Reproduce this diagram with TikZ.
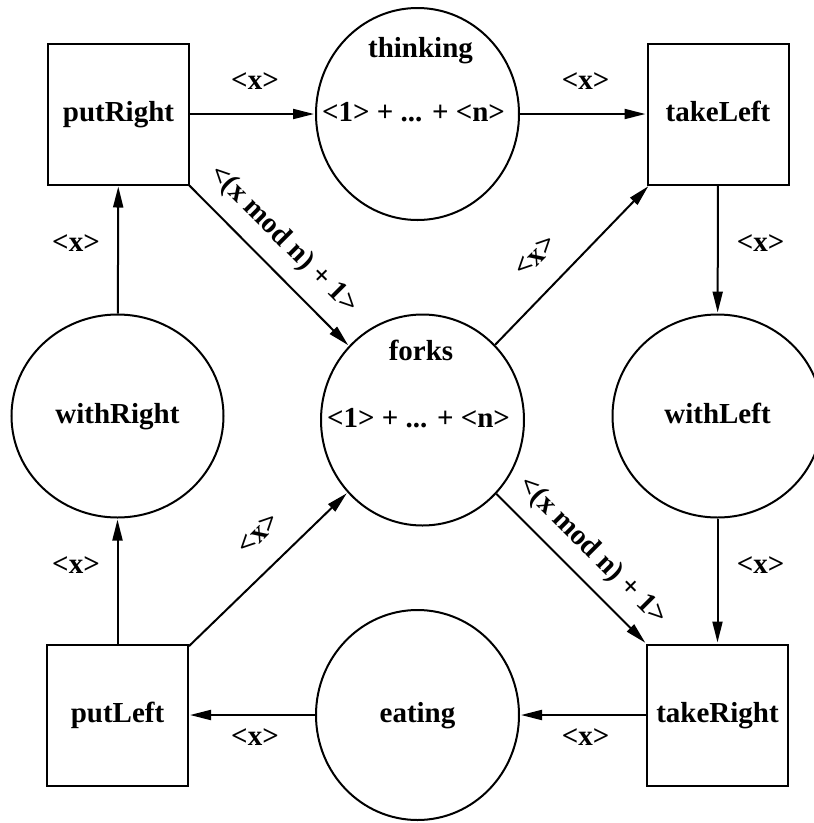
\documentclass[tikz,border=0pt]{standalone}
\usepackage{fontspec}
\setmainfont{Liberation Serif}
\usetikzlibrary{shapes.geometric,arrows.meta}
\begin{document}
\begin{tikzpicture}[x=1pt,y=-1pt,
  every node/.style={font=\fontsize{29}{34}\selectfont\bfseries},
  trans/.style={draw, line width=2pt, minimum size=141pt, inner sep=0pt, text height=20pt, text depth=6pt},
  place/.style={draw, ellipse, line width=2pt, inner sep=0pt, text height=20pt, text depth=6pt},
  marking/.style={inner sep=0pt, text height=20pt, text depth=6pt, xshift=-4pt},
  arc/.style={line width=2pt, -{Triangle[length=21pt,width=10pt]}, shorten >=1pt},
  lab/.style={anchor=base, inner sep=0pt},
  dlab/.style={inner sep=0pt}
]
\useasboundingbox (0,0) rectangle (814,823);
% transitions
\node[trans] (putRight) at (118.5,114) {putRight};
\node[trans] (takeLeft) at (718,114) {takeLeft};
\node[trans] (putLeft) at (117.5,715) {putLeft};
\node[trans] (takeRight) at (717.5,715) {takeRight};
% places
\node[place, minimum width=203pt, minimum height=212pt,
      label={[marking]center:<1> + ... + <n>}] (thinking) at (417.5,114) {};
\node[lab] (thinkingName) at (420.5,57) {thinking};
\node[place, minimum width=203pt, minimum height=211pt,
      label={[marking]center:<1> + ... + <n>}] (forks) at (422.5,420) {};
\node[lab] (forksName) at (421,360) {forks};
\node[place, minimum width=212pt, minimum height=203pt] (withRight) at (117.5,416) {withRight};
\node[place, minimum width=210pt, minimum height=203pt] (withLeft) at (717.5,416) {withLeft};
\node[place, minimum width=203pt, minimum height=210pt] (eating) at (417.5,715) {eating};
% arcs
\draw[arc] (putRight) -- (thinking);
\draw[arc] (thinking) -- (takeLeft);
\draw[arc] (takeLeft) -- (withLeft);
\draw[arc] (withLeft) -- (takeRight);
\draw[arc] (takeRight) -- (eating);
\draw[arc] (eating) -- (putLeft);
\draw[arc] (putLeft) -- (withRight);
\draw[arc] (withRight) -- (putRight);
\draw[arc] (putRight) -- (forks);
\draw[arc] (forks) -- (takeLeft);
\draw[arc] (forks) -- (takeRight);
\draw[arc] (putLeft) -- (forks);
% arc labels
\node[lab] (l1) at (255,89.5) {<x>};
\node[lab] (l2) at (585.7,89.5) {<x>};
\node[lab] (l3) at (760.7,251.5) {<x>};
\node[lab] (l4) at (76,251) {<x>};
\node[lab] (l5) at (76,573.3) {<x>};
\node[lab] (l6) at (760.7,573.3) {<x>};
\node[lab] (l7) at (585.7,745) {<x>};
\node[lab] (l8) at (255,745) {<x>};
\node[dlab, rotate=-45] (d1) at (283.5,240) {<(x mod n) + 1>};
\node[dlab, rotate=-45] (d2) at (592.5,551.7) {<(x mod n) + 1>};
\node[dlab, rotate=45] (d3) at (535.7,256) {<x>};
\node[dlab, rotate=45] (d4) at (258.3,533.3) {<x>};
\end{tikzpicture}
\end{document}
